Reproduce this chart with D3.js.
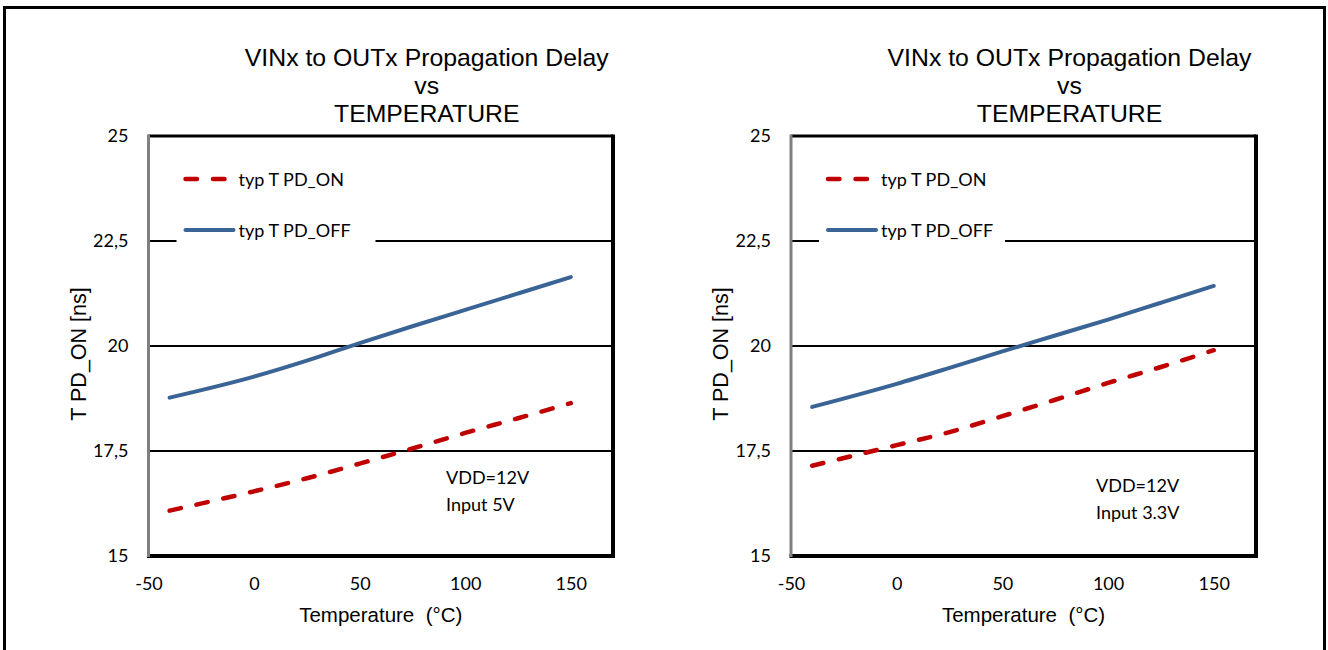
<!DOCTYPE html>
<html>
<head>
<meta charset="utf-8">
<script src="https://cdn.jsdelivr.net/npm/d3@7/dist/d3.min.js"></script>
<style>
  html, body { margin: 0; padding: 0; background: #fff; }
  svg { display: block; }
</style>
</head>
<body>
<svg id="chart" width="1328" height="650"></svg>
<script>
// ---- Data ----
const temperatures = [-40, 0, 25, 50, 75, 100, 125, 150];
const pdOn5V   = [16.08, 16.54, 16.85, 17.20, 17.56, 17.93, 18.28, 18.64];
const pdOff5V  = [18.77, 19.27, 19.65, 20.07, 20.47, 20.86, 21.25, 21.64];
const pdOn33V  = [17.15, 17.64, 17.95, 18.33, 18.72, 19.12, 19.50, 19.90];
const pdOff33V = [18.55, 19.10, 19.48, 19.87, 20.25, 20.63, 21.03, 21.43];
const xTicks = [-50, 0, 50, 100, 150];
const yTicks = [15, 17.5, 20, 22.5, 25];
const gridValues = [17.5, 20, 22.5];
const titleLines = ["VINx to OUTx Propagation Delay", "vs", "TEMPERATURE"];
const legendLabels = ["typ T PD_ON", "typ T PD_OFF"];
const xTitle = "Temperature  (\u00B0C)";
const yTitle = "T PD_ON [ns]";
const notes5V = ["VDD=12V", "Input 5V"];
const notes33V = ["VDD=12V", "Input 3.3V"];

const RED = "#C00000", BLUE = "#3A6496";
const svg = d3.select("#chart");
const tickFont = "Lato, 'Open Sans', sans-serif";
const titleFont = "'Liberation Sans', Arial, sans-serif";

// outer frame
svg.append("rect").attr("x", 4.5).attr("y", 7.5).attr("width", 1320).attr("height", 700)
  .attr("fill", "none").attr("stroke", "#000").attr("stroke-width", 3);

function drawPanel(p) {
  const x = d3.scaleLinear().domain([-50, 170]).range([p.left, p.right]);
  const y = d3.scaleLinear().domain([15, 25]).range([556, 136]);
  const g = svg.append("g");

  // gridlines
  g.selectAll(".grid").data(gridValues).join("line")
    .attr("x1", p.left).attr("x2", p.right)
    .attr("y1", d => y(d)).attr("y2", d => y(d))
    .attr("stroke", "#000").attr("stroke-width", 2);

  // legend background (covers gridline)
  g.append("rect").attr("x", p.left + 28).attr("y", 160)
    .attr("width", p.legendW).attr("height", 90).attr("fill", "#fff");

  // frame: top, right black
  g.append("line").attr("x1", p.left).attr("x2", p.right).attr("y1", y(25)).attr("y2", y(25))
    .attr("stroke", "#000").attr("stroke-width", 3);
  g.append("line").attr("x1", p.right).attr("x2", p.right).attr("y1", y(25) - 1.5).attr("y2", y(15) + 2)
    .attr("stroke", "#000").attr("stroke-width", 4);

  // axes (D3 axes, no tick marks)
  const xAxis = d3.axisBottom(x).tickValues(xTicks).tickSize(0).tickPadding(20)
    .tickFormat(d => String(d));
  const gx = g.append("g").attr("transform", `translate(0,${y(15)})`).call(xAxis);
  gx.select(".domain").attr("stroke", "#000").attr("stroke-width", 4)
    .attr("d", `M${p.left - 1.5},0H${p.right + 2}`);
  gx.selectAll("text").attr("font-family", tickFont).attr("font-size", 18).attr("fill", "#000")
    .attr("dy", "0.32em").attr("y", 28);

  const yAxis = d3.axisLeft(y).tickValues(yTicks).tickSize(0).tickPadding(20)
    .tickFormat(d => String(d).replace(".", ","));
  const gy = g.append("g").attr("transform", `translate(${p.left},0)`).call(yAxis);
  gy.select(".domain").attr("stroke", "#808080").attr("stroke-width", 3)
    .attr("d", `M0,${y(25) - 1.5}V${y(15) + 1}`);
  gy.selectAll("text").attr("font-family", tickFont).attr("font-size", 18).attr("fill", "#000");

  // series
  const line = d3.line().x(d => x(d[0])).y(d => y(d[1])).curve(d3.curveMonotoneX);
  const offPts = temperatures.map((t, i) => [t, p.off[i]]);
  const onPts = temperatures.map((t, i) => [t, p.on[i]]);
  g.append("path").attr("d", line(offPts)).attr("fill", "none").attr("stroke", BLUE)
    .attr("stroke-width", 4).attr("stroke-linecap", "round");
  g.append("path").attr("d", line(onPts)).attr("fill", "none").attr("stroke", RED)
    .attr("stroke-width", 4.5).attr("stroke-linecap", "round").attr("stroke-dasharray", "11.5,16");

  // legend
  const lx = p.left + 37;
  g.append("line").attr("x1", lx).attr("x2", lx + 45).attr("y1", 179).attr("y2", 179)
    .attr("stroke", RED).attr("stroke-width", 4.5).attr("stroke-linecap", "round").attr("stroke-dasharray", "11.5,16");
  g.append("line").attr("x1", lx).attr("x2", lx + 48).attr("y1", 230).attr("y2", 230)
    .attr("stroke", BLUE).attr("stroke-width", 4).attr("stroke-linecap", "round");
  g.selectAll(".leg").data(legendLabels).join("text")
    .attr("x", lx + 53).attr("y", (d, i) => 186 + i * 51)
    .attr("font-family", tickFont).attr("font-size", 18).attr("fill", "#000")
    .text(d => d);

  // notes
  g.selectAll(".note").data(p.notes).join("text")
    .attr("x", p.noteX).attr("y", (d, i) => p.noteY + i * 26.5)
    .attr("font-family", tickFont).attr("font-size", 18).attr("fill", "#000")
    .text(d => d);

  // title
  const cx = (p.left + p.right) / 2 + 46;
  g.selectAll(".title").data(titleLines).join("text")
    .attr("x", cx).attr("y", (d, i) => 66 + i * 28)
    .attr("text-anchor", "middle").attr("font-family", titleFont).attr("font-size", 24.8)
    .attr("fill", "#000").text(d => d);

  // axis titles
  g.append("text").attr("x", (p.left + p.right) / 2).attr("y", 622)
    .attr("text-anchor", "middle").attr("font-family", titleFont).attr("font-size", 20.5)
    .attr("fill", "#000").attr("xml:space", "preserve").style("white-space", "pre").text(xTitle);
  g.append("text").attr("transform", `translate(${p.left - 63},${(y(15) + y(25)) / 2 + 8}) rotate(-90)`)
    .attr("text-anchor", "middle").attr("font-family", titleFont).attr("font-size", 21.5)
    .attr("fill", "#000").text(yTitle);
}

drawPanel({ left: 148.5, right: 613, on: pdOn5V, off: pdOff5V, notes: notes5V,
            noteX: 446, noteY: 484, legendW: 199 });
drawPanel({ left: 791, right: 1256, on: pdOn33V, off: pdOff33V, notes: notes33V,
            noteX: 1096, noteY: 492, legendW: 186 });
</script>
</body>
</html>
